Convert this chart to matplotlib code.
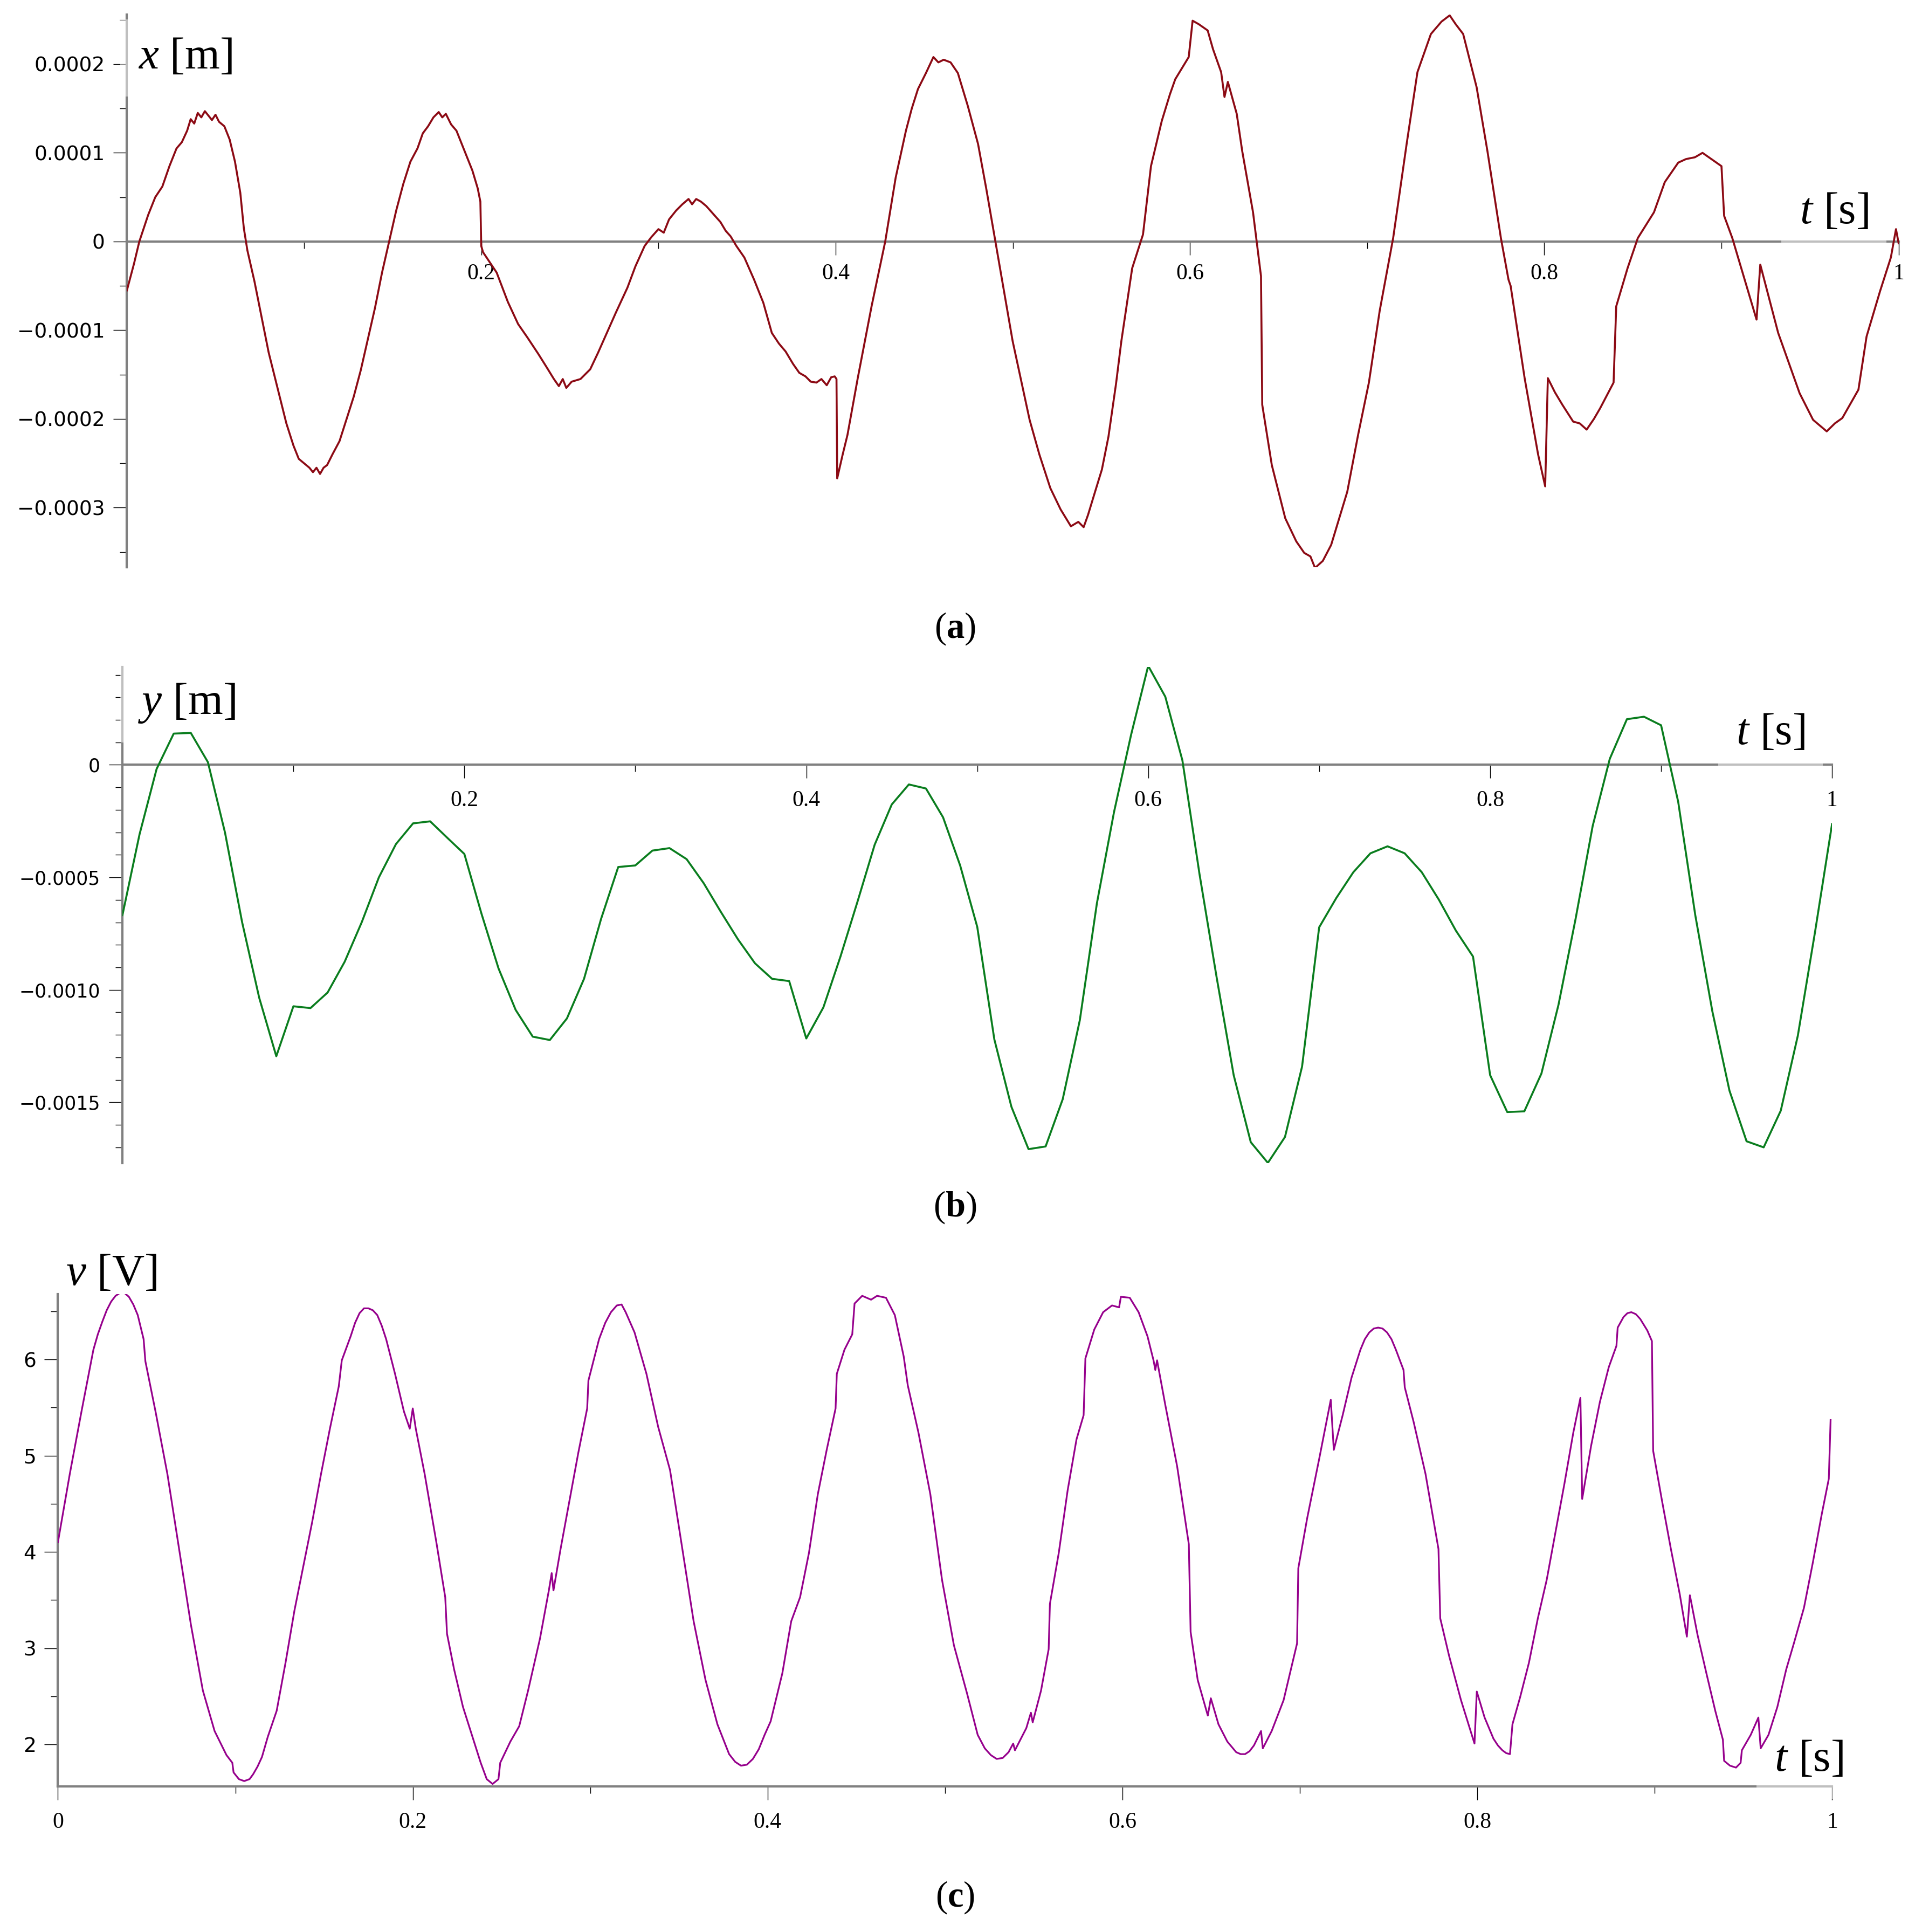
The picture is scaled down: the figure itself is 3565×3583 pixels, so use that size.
import matplotlib
matplotlib.use("Agg")
import matplotlib.pyplot as plt
import numpy as np
from matplotlib.ticker import FixedLocator, FixedFormatter, MultipleLocator

plt.rcParams['mathtext.fontset'] = 'custom'
plt.rcParams['mathtext.rm'] = 'Liberation Serif'
plt.rcParams['mathtext.it'] = 'Liberation Serif:italic'
plt.rcParams['mathtext.bf'] = 'Liberation Serif:bold'

# (a) displacement x [m], values in units of 1e-4 m
a_t = [0.000, 0.004, 0.007, 0.012, 0.016, 0.020, 0.024, 0.028, 0.031, 0.034,
       0.036, 0.038, 0.040, 0.042, 0.044, 0.046, 0.048, 0.050, 0.052, 0.055,
       0.058, 0.061, 0.064, 0.066, 0.068, 0.072, 0.076, 0.080, 0.085, 0.090,
       0.094, 0.097, 0.100, 0.103, 0.105, 0.107, 0.109, 0.111, 0.113, 0.116,
       0.120, 0.124, 0.128, 0.132, 0.136, 0.140, 0.144, 0.148, 0.152, 0.156,
       0.160, 0.164, 0.167, 0.170, 0.173, 0.176, 0.178, 0.180, 0.183, 0.186,
       0.189, 0.192, 0.195, 0.198, 0.1995, 0.200, 0.201, 0.2087, 0.215, 0.2208,
       0.226, 0.2323, 0.237, 0.241, 0.2438, 0.246, 0.248, 0.251, 0.256, 0.2615,
       0.266, 0.2709, 0.276, 0.2825, 0.287, 0.2922, 0.296, 0.300, 0.303, 0.306,
       0.310, 0.3135, 0.317, 0.319, 0.3213, 0.324, 0.327, 0.331, 0.335, 0.338,
       0.3407, 0.344, 0.3485, 0.354, 0.3592, 0.364, 0.368, 0.3718, 0.376, 0.3795,
       0.383, 0.386, 0.3892, 0.392, 0.395, 0.3975, 0.3995, 0.4005, 0.4009, 0.404,
       0.4067, 0.4125, 0.4203, 0.428, 0.4339, 0.4397, 0.443, 0.4465, 0.451, 0.4552,
       0.458, 0.461, 0.4649, 0.469, 0.4746, 0.4804, 0.485, 0.4902, 0.4999, 0.504,
       0.5095, 0.515, 0.5212, 0.527, 0.5328, 0.537, 0.540, 0.5425, 0.546, 0.5503,
       0.554, 0.5583, 0.5613, 0.5674, 0.5735, 0.578, 0.5841, 0.5887, 0.5917, 0.5993,
       0.6015, 0.605, 0.610, 0.613, 0.6176, 0.6195, 0.6214, 0.6264, 0.6295, 0.6356,
       0.6401, 0.6408, 0.6462, 0.6538, 0.660, 0.6645, 0.668, 0.6706, 0.675, 0.6797,
       0.6888, 0.6949, 0.701, 0.7071, 0.7147, 0.7223, 0.7284, 0.736, 0.742, 0.7466,
       0.750, 0.7542, 0.7618, 0.7679, 0.7755, 0.7798, 0.781, 0.7889, 0.7965, 0.8005,
       0.802, 0.806, 0.8102, 0.8163, 0.820, 0.8239, 0.828, 0.8315, 0.8391, 0.8406,
       0.847, 0.8528, 0.8619, 0.868, 0.8756, 0.880, 0.885, 0.8893, 0.895, 0.900,
       0.9015, 0.9061, 0.9198, 0.9219, 0.932, 0.9441, 0.9517, 0.9594, 0.964, 0.9682,
       0.9773, 0.9819, 0.9895, 0.9956, 0.9985, 1.000]
a_x = [-0.55, -0.25, 0.00, 0.30, 0.50, 0.62, 0.85, 1.05, 1.12, 1.25,
       1.38, 1.33, 1.45, 1.40, 1.47, 1.42, 1.37, 1.43, 1.35, 1.30,
       1.15, 0.90, 0.55, 0.15, -0.10, -0.45, -0.85, -1.25, -1.65, -2.05,
       -2.30, -2.45, -2.50, -2.55, -2.60, -2.55, -2.62, -2.55, -2.52, -2.40,
       -2.25, -2.00, -1.75, -1.45, -1.10, -0.75, -0.35, 0.00, 0.35, 0.65,
       0.90, 1.05, 1.22, 1.30, 1.40, 1.46, 1.40, 1.44, 1.32, 1.25,
       1.10, 0.95, 0.80, 0.60, 0.45, -0.05, -0.12, -0.35, -0.68, -0.93,
       -1.08, -1.27, -1.42, -1.55, -1.63, -1.55, -1.65, -1.58, -1.55, -1.44,
       -1.25, -1.03, -0.80, -0.52, -0.28, -0.05, 0.05, 0.14, 0.10, 0.25,
       0.35, 0.42, 0.48, 0.42, 0.48, 0.45, 0.40, 0.31, 0.22, 0.12,
       0.06, -0.05, -0.18, -0.43, -0.69, -1.03, -1.15, -1.24, -1.38, -1.48,
       -1.52, -1.58, -1.59, -1.55, -1.62, -1.53, -1.52, -1.55, -2.67, -2.40,
       -2.18, -1.54, -0.73, 0.00, 0.72, 1.25, 1.50, 1.72, 1.90, 2.08,
       2.02, 2.05, 2.02, 1.90, 1.53, 1.10, 0.60, 0.00, -1.12, -1.50,
       -2.01, -2.40, -2.78, -3.02, -3.21, -3.16, -3.22, -3.08, -2.85, -2.57,
       -2.20, -1.60, -1.12, -0.30, 0.08, 0.85, 1.36, 1.66, 1.83, 2.08,
       2.49, 2.45, 2.38, 2.17, 1.91, 1.63, 1.80, 1.44, 1.02, 0.33,
       -0.39, -1.84, -2.52, -3.12, -3.38, -3.51, -3.55, -3.68, -3.60, -3.42,
       -2.82, -2.18, -1.59, -0.78, 0.04, 1.10, 1.91, 2.34, 2.48, 2.55,
       2.45, 2.34, 1.74, 1.02, 0.04, -0.43, -0.50, -1.54, -2.40, -2.76,
       -1.54, -1.70, -1.84, -2.03, -2.05, -2.12, -2.00, -1.88, -1.59, -0.73,
       -0.30, 0.04, 0.33, 0.67, 0.89, 0.93, 0.95, 1.00, 0.92, 0.85,
       0.29, 0.04, -0.88, -0.26, -1.03, -1.71, -2.01, -2.14, -2.05, -1.99,
       -1.67, -1.07, -0.56, -0.18, 0.14, -0.02]

# (b) displacement y [m], sampled every 0.01 s, values in units of 1e-4 m
b_t = np.linspace(0, 1, 101)
b_y = [-6.68, -3.09, -0.18, 1.39, 1.42, 0.12, -3.01, -6.99, -10.35, -12.95,
       -10.73, -10.81, -10.12, -8.75, -6.99, -5.00, -3.52, -2.60, -2.51, -3.24,
       -3.96, -6.61, -9.05, -10.89, -12.08, -12.23, -11.27, -9.51, -6.84, -4.54,
       -4.47, -3.81, -3.70, -4.19, -5.26, -6.53, -7.75, -8.82, -9.51, -9.61,
       -12.16, -10.78, -8.52, -6.07, -3.55, -1.76, -0.87, -1.05, -2.33, -4.47,
       -7.20, -12.20, -15.20, -17.08, -16.96, -14.86, -11.35, -6.15, -2.10, 1.34,
       4.40, 3.03, 0.20, -4.85, -9.43, -13.79, -16.77, -17.69, -16.54, -13.41,
       -7.22, -5.92, -4.77, -3.93, -3.62, -3.93, -4.77, -5.99, -7.37, -8.52,
       -13.79, -15.43, -15.40, -13.72, -10.66, -6.84, -2.71, 0.27, 2.03, 2.14,
       1.76, -1.64, -6.68, -10.96, -14.48, -16.73, -17.00, -15.37, -12.03, -7.45,
       -2.63]

# (c) voltage v [V]
c_t = [0.0000, 0.0067, 0.0133, 0.0200, 0.0225, 0.0250, 0.0275, 0.0300, 0.0325, 0.0350,
       0.0375, 0.0400, 0.0425, 0.0450, 0.0483,
       0.0493, 0.0550, 0.0617, 0.0683, 0.0750, 0.0817, 0.0883, 0.0950, 0.0983, 0.0990,
       0.1020, 0.1050, 0.1080, 0.1100, 0.1125, 0.1150, 0.1183, 0.1233, 0.1283, 0.1333, 0.1383,
       0.1433, 0.1483, 0.1533, 0.1583, 0.1600, 0.1650, 0.1675, 0.1700, 0.1725, 0.1750,
       0.1775, 0.1800, 0.1825, 0.1850,
       0.1900, 0.1950, 0.1983, 0.2000, 0.2017, 0.2067, 0.2133, 0.2183, 0.2193, 0.2233,
       0.2283, 0.2333, 0.2383, 0.2417, 0.2450, 0.2483, 0.2493, 0.2550, 0.2600, 0.2650,
       0.2717, 0.2767, 0.2783, 0.2793, 0.2833, 0.2883, 0.2933, 0.2983, 0.2990, 0.3050,
       0.3085, 0.3117, 0.3150, 0.3177, 0.3200, 0.3250, 0.3317, 0.3383, 0.3450, 0.3517, 0.3583, 0.3650,
       0.3717, 0.3783, 0.3817, 0.3850, 0.3883, 0.3917, 0.3950, 0.3983, 0.4017, 0.4083, 0.4133, 0.4183, 0.4233,
       0.4283, 0.4333, 0.4383, 0.4390, 0.4433, 0.4477, 0.4490, 0.4533, 0.4583, 0.4617,
       0.4667, 0.4717, 0.4767, 0.4790, 0.4850, 0.4917, 0.4983, 0.5050, 0.5124, 0.5184,
       0.5224, 0.5258, 0.5291, 0.5325, 0.5358, 0.5384, 0.5394, 0.5458, 0.5484, 0.5494, 0.5541, 0.5584,
       0.5591, 0.5641, 0.5691, 0.5741, 0.5781, 0.5791, 0.5841, 0.5891, 0.5941, 0.5981,
       0.5991, 0.6041, 0.6091, 0.6141, 0.6175, 0.6185, 0.6195, 0.6241, 0.6308, 0.6374,
       0.6384, 0.6424, 0.6481, 0.6498, 0.6541, 0.6591, 0.6641, 0.6666, 0.6691, 0.6716, 0.6741, 0.6781,
       0.6791, 0.6841, 0.6908, 0.6984, 0.6991, 0.7041, 0.7108, 0.7174, 0.7191, 0.7241,
       0.7291, 0.7341, 0.7366, 0.7391, 0.7416, 0.7441, 0.7466, 0.7491, 0.7516, 0.7541,
       0.7584, 0.7591, 0.7641, 0.7708,
       0.7781, 0.7791, 0.7841, 0.7908, 0.7984, 0.7997, 0.8041, 0.8091, 0.8116, 0.8141, 0.8163, 0.8184,
       0.8198, 0.8241, 0.8291, 0.8341, 0.8391, 0.8441, 0.8491, 0.8541, 0.8581, 0.8591,
       0.8641, 0.8691, 0.8741, 0.8784, 0.8791, 0.8824, 0.8846, 0.8868, 0.8893, 0.8918, 0.8958, 0.8984,
       0.8991, 0.9041, 0.9091, 0.9141, 0.9181, 0.9198, 0.9241, 0.9291, 0.9341, 0.9384,
       0.9391, 0.9424, 0.9458, 0.9484, 0.9491, 0.9541, 0.9584, 0.9597, 0.9641, 0.9691,
       0.9741, 0.9784, 0.9841, 0.9891, 0.9941, 0.9981, 0.9991]
c_v = [4.10, 4.81, 5.46, 6.10, 6.26, 6.39, 6.51, 6.60, 6.66, 6.69,
       6.69, 6.65, 6.57, 6.46, 6.21,
       5.98, 5.46, 4.81, 4.03, 3.24, 2.56, 2.14, 1.89, 1.81, 1.71,
       1.64, 1.62, 1.64, 1.69, 1.77, 1.87, 2.08, 2.35, 2.85, 3.39, 3.85,
       4.31, 4.81, 5.28, 5.72, 5.99, 6.24, 6.38, 6.48, 6.53, 6.53,
       6.51, 6.46, 6.35, 6.21,
       5.85, 5.46, 5.28, 5.49, 5.28, 4.81, 4.10, 3.53, 3.15, 2.78,
       2.39, 2.10, 1.81, 1.64, 1.59, 1.64, 1.81, 2.03, 2.19, 2.56,
       3.10, 3.60, 3.78, 3.60, 4.03, 4.53, 5.03, 5.49, 5.78, 6.21,
       6.38, 6.49, 6.56, 6.57, 6.49, 6.28, 5.85, 5.30, 4.85, 4.06, 3.28, 2.67,
       2.21, 1.90, 1.82, 1.78, 1.79, 1.85, 1.95, 2.10, 2.24, 2.74, 3.28, 3.53, 3.99,
       4.60, 5.06, 5.49, 5.85, 6.10, 6.26, 6.58, 6.66, 6.62, 6.66,
       6.64, 6.46, 6.03, 5.73, 5.24, 4.60, 3.71, 3.03, 2.53, 2.10,
       1.96, 1.89, 1.85, 1.86, 1.92, 2.01, 1.94, 2.17, 2.33, 2.23, 2.56, 2.99,
       3.46, 3.99, 4.64, 5.17, 5.42, 6.01, 6.31, 6.49, 6.56, 6.54,
       6.65, 6.64, 6.49, 6.24, 5.99, 5.89, 5.99, 5.53, 4.89, 4.08,
       3.17, 2.67, 2.30, 2.48, 2.21, 2.03, 1.92, 1.90, 1.90, 1.93, 1.99, 2.14,
       1.96, 2.14, 2.46, 3.05, 3.83, 4.35, 4.96, 5.58, 5.06, 5.42,
       5.81, 6.10, 6.21, 6.28, 6.32, 6.33, 6.32, 6.28, 6.21, 6.10,
       5.89, 5.71, 5.35, 4.81,
       4.03, 3.31, 2.92, 2.46, 2.01, 2.55, 2.28, 2.06, 1.99, 1.94, 1.91, 1.90,
       2.21, 2.49, 2.85, 3.31, 3.71, 4.21, 4.71, 5.24, 5.60, 4.55,
       5.10, 5.56, 5.92, 6.14, 6.33, 6.44, 6.48, 6.49, 6.47, 6.42, 6.30, 6.19,
       5.05, 4.53, 4.03, 3.56, 3.12, 3.55, 3.14, 2.74, 2.35, 2.05,
       1.83, 1.78, 1.76, 1.81, 1.94, 2.10, 2.28, 1.96, 2.10, 2.39,
       2.78, 3.05, 3.42, 3.89, 4.39, 4.76, 5.37]

# ticks
t_major = [0, 0.2, 0.4, 0.6, 0.8, 1.0]
t_labels_ab = ['', '0.2', '0.4', '0.6', '0.8', '1']
t_labels_c = ['0', '0.2', '0.4', '0.6', '0.8', '1']
a_yticks = [-3e-4, -2e-4, -1e-4, 0, 1e-4, 2e-4]
a_ylabels = ['\u22120.0003', '\u22120.0002', '\u22120.0001', '0', '0.0001', '0.0002']
b_yticks = [-15e-4, -10e-4, -5e-4, 0]
b_ylabels = ['\u22120.0015', '\u22120.0010', '\u22120.0005', '0']
c_yticks = [2, 3, 4, 5, 6]
c_ylabels = ['2', '3', '4', '5', '6']

color_a = '#8c0a14'
color_b = '#0a7d1e'
color_c = '#96008c'
axis_gray = '#808080'


def style_axes(ax, xpad, ypad, ysize):
    ax.spines['top'].set_visible(False)
    ax.spines['right'].set_visible(False)
    for side in ('left', 'bottom'):
        ax.spines[side].set_color(axis_gray)
        ax.spines[side].set_linewidth(3.0)
    ax.tick_params(which='major', length=18, width=1.0, color='black')
    ax.tick_params(which='minor', length=9.5, width=1.0, color='black')
    ax.tick_params(axis='x', which='major', pad=xpad, labelsize=30,
                   labelfontfamily='Liberation Serif')
    ax.tick_params(axis='y', which='major', pad=ypad, labelsize=ysize,
                   labelfontfamily='DejaVu Sans')
    ax.xaxis.set_minor_locator(MultipleLocator(0.1))
    ax.set_xlim(0, 1)


box = dict(boxstyle='square,pad=0.4', facecolor='white', alpha=0.5, edgecolor='none')

fig = plt.figure(figsize=(35.65, 35.83), dpi=100)

# panel (a)
ax_a = fig.add_axes([0.06603, 0.70639, 0.92182, 0.28607])
ax_a.plot(a_t, np.array(a_x) * 1e-4, color=color_a, linewidth=2.6, zorder=4)
style_axes(ax_a, 11.5, 11.5, 27)
ax_a.spines['bottom'].set_position(('data', 0))
ax_a.set_ylim(-3.672e-4, 2.559e-4)
ax_a.xaxis.set_major_locator(FixedLocator(t_major))
ax_a.xaxis.set_major_formatter(FixedFormatter(t_labels_ab))
ax_a.yaxis.set_major_locator(FixedLocator(a_yticks))
ax_a.yaxis.set_major_formatter(FixedFormatter(a_ylabels))
ax_a.yaxis.set_minor_locator(MultipleLocator(5e-5))
ax_a.text(0.0063, 1.95e-4, r'$x$ [m]', fontsize=60, family='Liberation Serif',
          ha='left', va='baseline', zorder=3, bbox=box)
ax_a.text(0.944, 0.206e-4, r'$t$ [s]', fontsize=60, family='Liberation Serif',
          ha='left', va='baseline', zorder=3, bbox=box)

# panel (b)
ax_b = fig.add_axes([0.0637, 0.3981, 0.8895, 0.25666])
ax_b.plot(b_t, np.array(b_y) * 1e-4, color=color_b, linewidth=2.6, zorder=4)
style_axes(ax_b, 16, 12, 25)
ax_b.spines['bottom'].set_position(('data', 0))
ax_b.set_ylim(-17.69e-4, 4.35e-4)
ax_b.xaxis.set_major_locator(FixedLocator(t_major))
ax_b.xaxis.set_major_formatter(FixedFormatter(t_labels_ab))
ax_b.yaxis.set_major_locator(FixedLocator(b_yticks))
ax_b.yaxis.set_major_formatter(FixedFormatter(b_ylabels))
ax_b.yaxis.set_minor_locator(MultipleLocator(1e-4))
ax_b.text(0.0092, 2.27e-4, r'$y$ [m]', fontsize=60, family='Liberation Serif',
          ha='left', va='baseline', zorder=3, bbox=box)
ax_b.text(0.9438, 0.916e-4, r'$t$ [s]', fontsize=60, family='Liberation Serif',
          ha='left', va='baseline', zorder=3, bbox=box)

# panel (c)
ax_c = fig.add_axes([0.03013, 0.07533, 0.92314, 0.25495])
ax_c.plot(c_t, c_v, color=color_c, linewidth=2.3, zorder=4)
style_axes(ax_c, 16, 11, 27)
ax_c.set_ylim(1.564, 6.68)
ax_c.xaxis.set_major_locator(FixedLocator(t_major))
ax_c.xaxis.set_major_formatter(FixedFormatter(t_labels_c))
ax_c.yaxis.set_major_locator(FixedLocator(c_yticks))
ax_c.yaxis.set_major_formatter(FixedFormatter(c_ylabels))
ax_c.yaxis.set_minor_locator(MultipleLocator(0.5))
ax_c.text(0.0043, 6.772, r'$v$ [V]', fontsize=60, family='Liberation Serif',
          ha='left', va='baseline', zorder=3, clip_on=False)
ax_c.text(0.9674, 1.725, r'$t$ [s]', fontsize=60, family='Liberation Serif',
          ha='left', va='baseline', zorder=3, bbox=box)

# panel captions
for ypos, letter in [(0.6747, 'a'), (0.375, 'b'), (0.01786, 'c')]:
    fig.text(0.4968, ypos, '($\\mathbf{' + letter + '}$)', fontsize=48,
             family='Liberation Serif', ha='center', va='center')

fig.savefig('out.png', dpi=100)
